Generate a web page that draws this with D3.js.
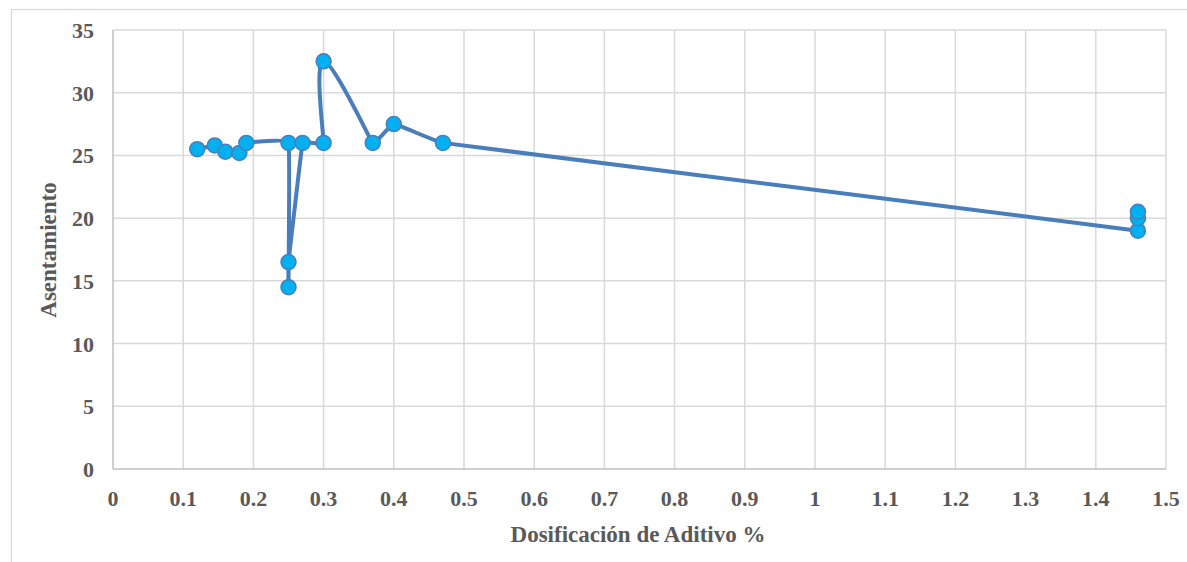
<!DOCTYPE html>
<html>
<head>
<meta charset="utf-8">
<script src="https://cdn.jsdelivr.net/npm/d3@7"></script>
<style>
  body { margin: 0; background: #fff; }
  svg { display: block; }
  text { font-family: "Liberation Serif", "Times New Roman", Times, serif; font-weight: bold; fill: #595959; }
</style>
</head>
<body>
<svg id="chart" width="1187" height="562"></svg>
<script>
// Dosificación de aditivo (%) vs asentamiento, in drawing order
const dosage = [0.12, 0.145, 0.16, 0.18, 0.19, 0.25, 0.25, 0.25, 0.27, 0.30, 0.30, 0.37, 0.40, 0.47, 1.46, 1.46, 1.46];
const slump  = [25.5, 25.8, 25.3, 25.2, 26.0, 26.0, 14.5, 16.5, 26.0, 26.0, 32.5, 26.0, 27.5, 26.0, 19.0, 20.0, 20.5];

const xTicks = [0, 0.1, 0.2, 0.3, 0.4, 0.5, 0.6, 0.7, 0.8, 0.9, 1, 1.1, 1.2, 1.3, 1.4, 1.5];
const yTicks = [0, 5, 10, 15, 20, 25, 30, 35];

const xTitle = "Dosificación de Aditivo %";
const yTitle = "Asentamiento";

const svg = d3.select("#chart");

// chart frame (runs past the bottom/right of the window)
svg.append("rect")
   .attr("x", 11.5).attr("y", 9.5)
   .attr("width", 1200).attr("height", 600)
   .attr("fill", "none")
   .attr("stroke", "#d9d9d9")
   .attr("stroke-width", 1.2);

const plot = { left: 113, right: 1166, top: 30, bottom: 469 };

const x = d3.scaleLinear().domain([0, 1.5]).range([plot.left, plot.right]);
const y = d3.scaleLinear().domain([0, 35]).range([plot.bottom, plot.top]);

const g = svg.append("g");

// gridlines
g.selectAll(".vgrid")
 .data(xTicks.filter(d => d > 0))
 .enter().append("line")
 .attr("x1", d => x(d)).attr("x2", d => x(d))
 .attr("y1", plot.top).attr("y2", plot.bottom)
 .attr("stroke", "#d9d9d9").attr("stroke-width", 1.5);

g.selectAll(".hgrid")
 .data(yTicks.filter(d => d > 0))
 .enter().append("line")
 .attr("x1", plot.left).attr("x2", plot.right)
 .attr("y1", d => y(d)).attr("y2", d => y(d))
 .attr("stroke", "#d9d9d9").attr("stroke-width", 1.5);

// axis lines
g.append("line")
 .attr("x1", plot.left).attr("x2", plot.right)
 .attr("y1", y(0)).attr("y2", y(0))
 .attr("stroke", "#bfbfbf").attr("stroke-width", 1.5);
g.append("line")
 .attr("x1", x(0)).attr("x2", x(0))
 .attr("y1", plot.top).attr("y2", plot.bottom)
 .attr("stroke", "#bfbfbf").attr("stroke-width", 1.5);

// tick labels
g.selectAll(".xlab")
 .data(xTicks)
 .enter().append("text")
 .attr("x", d => x(d))
 .attr("y", 506)
 .attr("text-anchor", "middle")
 .attr("font-size", 22)
 .text(d => String(d));

g.selectAll(".ylab")
 .data(yTicks)
 .enter().append("text")
 .attr("x", 94)
 .attr("y", d => y(d) + 8)
 .attr("text-anchor", "end")
 .attr("font-size", 22)
 .text(d => String(d));

// axis titles
svg.append("text")
   .attr("x", 638).attr("y", 542)
   .attr("text-anchor", "middle")
   .attr("font-size", 23)
   .text(xTitle);

svg.append("text")
   .attr("transform", "translate(56,250) rotate(-90)")
   .attr("text-anchor", "middle")
   .attr("font-size", 23)
   .text(yTitle);

// series: smoothed line, handles limited by the shorter neighbouring segment
const pts = dosage.map((d, i) => [x(d), y(slump[i])]);

function smoothPath(p, k) {
  const path = d3.path();
  const n = p.length;
  const dist = (a, b) => Math.hypot(b[0] - a[0], b[1] - a[1]);
  const tang = i => {
    const a = p[Math.max(i - 1, 0)], b = p[Math.min(i + 1, n - 1)];
    const len = dist(a, b) || 1;
    const lp = i > 0 ? dist(p[i - 1], p[i]) : Infinity;
    const ln = i < n - 1 ? dist(p[i], p[i + 1]) : Infinity;
    const h = Math.min(lp, ln) * k;
    return [(b[0] - a[0]) / len * h, (b[1] - a[1]) / len * h];
  };
  path.moveTo(p[0][0], p[0][1]);
  for (let i = 0; i < n - 1; i++) {
    const t0 = tang(i), t1 = tang(i + 1);
    path.bezierCurveTo(p[i][0] + t0[0], p[i][1] + t0[1],
                       p[i + 1][0] - t1[0], p[i + 1][1] - t1[1],
                       p[i + 1][0], p[i + 1][1]);
  }
  return path.toString();
}

g.append("path")
 .attr("d", smoothPath(pts, 0.12))
 .attr("fill", "none")
 .attr("stroke", "#4a7ebb")
 .attr("stroke-width", 4)
 .attr("stroke-linejoin", "round");

g.selectAll(".pt")
 .data(pts)
 .enter().append("circle")
 .attr("cx", d => d[0])
 .attr("cy", d => d[1])
 .attr("r", 7.5)
 .attr("fill", "#00b0f0")
 .attr("stroke", "#4a7ebb")
 .attr("stroke-width", 1.5);
</script>
</body>
</html>
